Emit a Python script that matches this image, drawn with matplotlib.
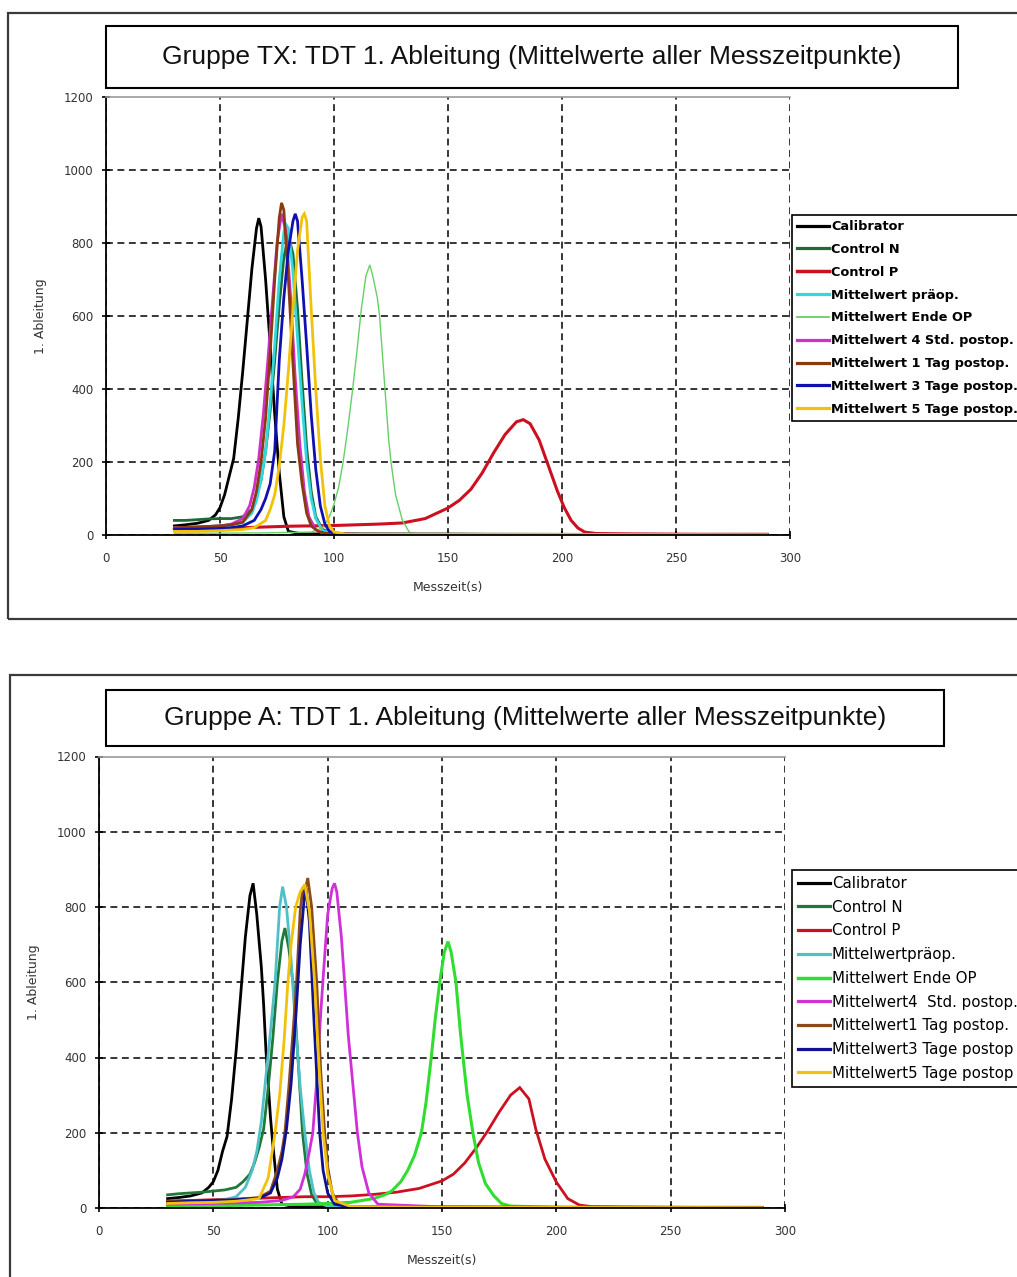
import matplotlib
matplotlib.use("Agg")
import matplotlib.pyplot as plt
from matplotlib.patches import Rectangle

plt.rcParams['font.family'] = ['Liberation Sans', 'DejaVu Sans']

# ---------------------------------------------------------------- data
SERIES = ["Calibrator", "Control N", "Control P", "Mittelwert präop.",
          "Mittelwert Ende OP", "Mittelwert 4 Std. postop.",
          "Mittelwert 1 Tag postop.", "Mittelwert 3 Tage postop.",
          "Mittelwert 5 Tage postop."]
SERIES_A = ["Calibrator", "Control N", "Control P", "Mittelwertpräop.",
            "Mittelwert Ende OP", "Mittelwert4  Std. postop.",
            "Mittelwert1 Tag postop.", "Mittelwert3 Tage postop",
            "Mittelwert5 Tage postop"]

X_TICKS = [0, 50, 100, 150, 200, 250, 300]
Y_TICKS = [0, 200, 400, 600, 800, 1000, 1200]

# Gruppe TX
tx_cal_x = [30, 35, 40, 45, 48, 50, 52, 54, 56, 58, 60, 62, 64, 66, 67, 68, 70, 72, 74, 76, 78, 80, 85, 90, 100, 150, 200, 250, 290]
tx_cal_y = [25, 28, 32, 40, 55, 75, 110, 160, 210, 320, 450, 590, 730, 840, 868, 845, 700, 520, 330, 170, 50, 10, 4, 3, 2, 2, 1, 1, 1]
tx_cn_x = [30, 35, 40, 45, 50, 55, 60, 64, 68, 70, 72, 74, 76, 78, 80, 82, 84, 86, 88, 90, 92, 95, 100, 110, 150, 200, 250, 290]
tx_cn_y = [40, 40, 42, 44, 45, 45, 50, 70, 150, 230, 340, 480, 630, 760, 820, 770, 620, 420, 240, 120, 50, 15, 5, 3, 2, 2, 1, 1]
tx_cp_x = [30, 40, 50, 60, 70, 80, 90, 100, 110, 120, 130, 140, 150, 155, 160, 165, 170, 175, 180, 183, 186, 190, 194, 198, 201, 204, 207, 210, 215, 230, 260, 290]
tx_cp_y = [15, 16, 18, 20, 22, 24, 25, 26, 28, 30, 33, 45, 74, 95, 125, 170, 225, 275, 310, 316, 305, 260, 190, 120, 75, 40, 19, 8, 4, 3, 2, 2]
tx_pre_x = [30, 40, 50, 55, 60, 64, 66, 68, 70, 72, 74, 76, 78, 79, 80, 82, 84, 86, 88, 90, 92, 95, 100, 110, 150, 200, 290]
tx_pre_y = [20, 22, 25, 28, 35, 60, 95, 150, 230, 360, 520, 700, 830, 850, 840, 720, 540, 360, 200, 100, 45, 12, 4, 2, 2, 1, 1]
tx_end_x = [30, 50, 70, 90, 95, 98, 100, 102, 104, 106, 108, 110, 112, 114, 115.7, 117, 119, 120, 122, 124, 125, 127, 130, 133, 136, 140, 150, 200, 290]
tx_end_y = [5, 5, 6, 8, 20, 50, 85, 130, 200, 290, 390, 500, 620, 710, 740, 710, 650, 600, 430, 260, 200, 110, 40, 8, 3, 2, 2, 1, 1]
tx_4h_x = [30, 40, 50, 55, 60, 63, 65, 67, 69, 71, 73, 75, 77, 79, 81, 83, 85, 87, 89, 92, 95, 100, 110, 150, 290]
tx_4h_y = [20, 22, 25, 30, 45, 80, 130, 210, 330, 480, 640, 800, 880, 830, 650, 430, 250, 120, 50, 15, 5, 3, 2, 2, 1]
tx_1d_x = [30, 40, 50, 55, 60, 64, 66, 68, 70, 72, 74, 76, 77, 78, 80, 82, 84, 86, 88, 90, 93, 96, 100, 110, 150, 200, 290]
tx_1d_y = [20, 22, 25, 28, 35, 70, 120, 200, 320, 500, 700, 870, 910, 890, 700, 470, 250, 140, 60, 25, 10, 5, 3, 2, 2, 1, 1]
tx_3d_x = [30, 40, 50, 55, 60, 65, 68, 70, 72, 74, 76, 78, 80, 82, 83, 84, 86, 88, 90, 92, 94, 96, 98, 100, 105, 110, 150, 290]
tx_3d_y = [15, 16, 18, 20, 25, 40, 70, 100, 140, 230, 480, 650, 780, 860, 880, 860, 700, 520, 330, 180, 80, 30, 10, 5, 3, 2, 2, 1]
tx_5d_x = [30, 40, 50, 60, 65, 70, 72, 74, 76, 78, 80, 82, 84, 86, 87, 88, 90, 92, 94, 96, 98, 100, 105, 110, 150, 290]
tx_5d_y = [10, 10, 12, 15, 20, 40, 70, 110, 190, 300, 450, 620, 780, 870, 880, 860, 620, 400, 210, 80, 25, 8, 3, 2, 2, 1]

# Gruppe A
a_cal_x = [30, 35, 40, 45, 48, 50, 52, 54, 56, 58, 60, 62, 64, 66, 67.4, 69, 71, 72, 73, 74, 75, 76, 78, 80, 85, 90, 150, 290]
a_cal_y = [25, 28, 32, 40, 55, 70, 100, 150, 190, 290, 420, 570, 720, 830, 863, 780, 640, 540, 420, 330, 240, 170, 50, 10, 4, 3, 2, 1]
a_cn_x = [30, 35, 40, 45, 50, 55, 60, 63, 66, 68, 70, 72, 74, 76, 78, 80, 81.3, 83, 85, 87, 89, 91, 93, 95, 100, 110, 150, 290]
a_cn_y = [35, 38, 40, 42, 45, 48, 55, 70, 90, 120, 160, 210, 320, 450, 600, 710, 744, 690, 590, 400, 200, 90, 35, 15, 5, 3, 2, 1]
a_cp_x = [30, 40, 50, 60, 70, 80, 90, 100, 110, 120, 130, 140, 150, 155, 160, 165, 170, 175, 180, 184, 188, 191, 195, 200, 205, 210, 215, 230, 260, 290]
a_cp_y = [18, 20, 22, 24, 26, 28, 30, 30, 32, 36, 42, 52, 72, 90, 120, 160, 205, 255, 300, 320, 290, 210, 130, 69, 25, 8, 4, 3, 2, 2]
a_pre_x = [30, 40, 50, 55, 60, 64, 67, 69, 71, 73, 75, 77, 79, 80.3, 82, 84, 86, 88, 90, 92, 94, 96, 100, 110, 150, 290]
a_pre_y = [15, 18, 20, 22, 30, 55, 100, 150, 230, 350, 470, 600, 800, 854, 800, 660, 480, 320, 200, 100, 40, 15, 5, 3, 2, 1]
a_end_x = [30, 50, 70, 90, 100, 110, 120, 125, 128, 132, 135, 138, 141, 143, 145.3, 147, 149, 151, 152.6, 154, 156.1, 158, 159.2, 161, 163.5, 166, 169, 172.6, 176, 180, 200, 290]
a_end_y = [5, 6, 8, 10, 12, 15, 25, 35, 45, 70, 100, 140, 200, 280, 400, 500, 600, 680, 708, 680, 600, 470, 400, 300, 200, 120, 65, 33, 12, 5, 2, 1]
a_4h_x = [30, 50, 70, 80, 85, 88, 90, 92, 93.5, 95, 97, 98, 100, 102, 103, 104, 106, 107.4, 109, 111, 113, 115, 118, 122, 150, 290]
a_4h_y = [10, 12, 15, 20, 30, 50, 90, 150, 200, 320, 520, 610, 780, 850, 863, 840, 720, 600, 460, 330, 200, 110, 40, 10, 3, 1]
a_1d_x = [30, 40, 50, 60, 70, 75, 78, 80, 81.3, 83, 85, 86.4, 88, 89, 90, 91.3, 93, 95.2, 97, 98.7, 100, 102, 105, 110, 150, 290]
a_1d_y = [18, 20, 20, 22, 28, 45, 100, 150, 200, 320, 480, 600, 790, 845, 840, 877, 800, 600, 360, 200, 110, 40, 10, 3, 2, 1]
a_3d_x = [30, 40, 50, 60, 70, 75, 78, 80, 82, 84, 86, 88, 90, 90.5, 92, 94, 96.5, 98, 100, 103, 110, 150, 290]
a_3d_y = [15, 18, 20, 22, 26, 40, 80, 130, 210, 330, 500, 700, 840, 850, 760, 500, 200, 100, 40, 10, 3, 2, 1]
a_5d_x = [30, 40, 50, 60, 70, 74, 77, 79, 81, 82.6, 84, 86, 88, 90, 92, 94.3, 96, 98, 100, 103, 110, 150, 290]
a_5d_y = [12, 14, 15, 18, 25, 80, 200, 300, 450, 600, 700, 800, 840, 860, 790, 600, 400, 200, 90, 20, 4, 2, 1]

TX_DATA = [(tx_cal_x, tx_cal_y), (tx_cn_x, tx_cn_y), (tx_cp_x, tx_cp_y),
           (tx_pre_x, tx_pre_y), (tx_end_x, tx_end_y), (tx_4h_x, tx_4h_y),
           (tx_1d_x, tx_1d_y), (tx_3d_x, tx_3d_y), (tx_5d_x, tx_5d_y)]
A_DATA = [(a_cal_x, a_cal_y), (a_cn_x, a_cn_y), (a_cp_x, a_cp_y),
          (a_pre_x, a_pre_y), (a_end_x, a_end_y), (a_4h_x, a_4h_y),
          (a_1d_x, a_1d_y), (a_3d_x, a_3d_y), (a_5d_x, a_5d_y)]

# ---------------------------------------------------------------- styles
TX_COLORS = ["#000000", "#1f6b38", "#cc1020", "#30d8e0", "#66d066",
             "#d030c8", "#8b3a10", "#1010b0", "#f2c20a"]
A_COLORS = ["#000000", "#1f7a3a", "#cc1020", "#50c0c8", "#30dd30",
            "#d030d8", "#8b4a1a", "#101090", "#f2c20a"]
TX_WIDTHS = [2.0, 2.0, 2.2, 2.0, 1.0, 2.0, 2.0, 2.0, 2.0]
A_WIDTHS = [2.0, 2.0, 2.0, 2.0, 2.2, 2.0, 2.0, 2.0, 2.0]

SMALL_FONT = "DejaVu Sans"

W, H = 1017, 1277
fig = plt.figure(figsize=(W / 100, H / 100), dpi=100)


def fx(px):
    return px / W


def fy(py):
    return 1 - py / H


def frame(x0, y0, x1, y1, lw, color):
    fig.add_artist(Rectangle((fx(x0), fy(y1)), fx(x1) - fx(x0), fy(y0) - fy(y1),
                             transform=fig.transFigure, fill=False,
                             edgecolor=color, linewidth=lw))


def panel(box, title_box, axes_px, title, labels, data, colors, widths,
          leg_xy, leg_font, leg_weight, leg_spacing, handle_len):
    frame(*box, lw=1.6, color="#3a3a3a")
    frame(*title_box, lw=1.5, color="#000000")
    tx0, ty0, tx1, ty1 = title_box
    fig.text(fx((tx0 + tx1) / 2), fy((ty0 + ty1) / 2), title,
             ha="center", va="center", fontsize=19, color="#111111")

    l, t, r, b = axes_px
    ax = fig.add_axes([fx(l), fy(b), fx(r) - fx(l), fy(t) - fy(b)])
    handles = []
    for (xs, ys), c, lw, lab in zip(data, colors, widths, labels):
        h, = ax.plot(xs, ys, color=c, linewidth=lw, label=lab,
                     solid_joinstyle="miter", clip_on=True)
        handles.append(h)

    ax.set_xlim(0, 300)
    ax.set_ylim(0, 1200)
    ax.set_xticks(X_TICKS)
    ax.set_yticks(Y_TICKS)
    ax.grid(True, color="black", linestyle=(0, (4.5, 3)), linewidth=1.1)
    ax.get_ygridlines()[-1].set_visible(False)
    ax.tick_params(direction="inout", length=6, width=1.2, labelsize=8.5,
                   labelcolor="#333333")
    ax.tick_params(axis="x", pad=9)
    ax.tick_params(axis="y", pad=6)
    for lab in ax.get_xticklabels() + ax.get_yticklabels():
        lab.set_family(SMALL_FONT)
    for side in ("left", "bottom"):
        ax.spines[side].set_color("black")
        ax.spines[side].set_linewidth(1.3)
    ax.spines["top"].set_color("#9a9a9a")
    ax.spines["top"].set_linewidth(1.2)
    ax.spines["right"].set_visible(False)
    ax.set_ylabel("1. Ableitung", fontsize=9, color="#333333", labelpad=12,
                  family=SMALL_FONT)
    ax.set_xlabel("Messzeit(s)", fontsize=9, color="#333333", labelpad=12,
                  family=SMALL_FONT)

    leg = fig.legend(handles=handles, loc="upper left",
                     bbox_to_anchor=(fx(leg_xy[0]), fy(leg_xy[1])),
                     bbox_transform=fig.transFigure, borderaxespad=0,
                     fancybox=False, framealpha=1, edgecolor="black",
                     prop={"size": leg_font, "weight": leg_weight,
                           "family": SMALL_FONT},
                     labelspacing=leg_spacing, handlelength=handle_len,
                     handletextpad=0.15, borderpad=0.4)
    leg.get_frame().set_linewidth(1.2)
    for line, lw in zip(leg.get_lines(), widths):
        line.set_linewidth(lw + 0.3)
    return ax


panel(box=(7.5, 13, 1030, 619), title_box=(105.7, 25.7, 958, 87.7),
      axes_px=(106, 97, 790, 535),
      title="Gruppe TX: TDT 1. Ableitung (Mittelwerte aller Messzeitpunkte)",
      labels=SERIES, data=TX_DATA, colors=TX_COLORS, widths=TX_WIDTHS,
      leg_xy=(792, 215), leg_font=9.3, leg_weight="bold", leg_spacing=0.76,
      handle_len=2.5)

panel(box=(10, 675, 1030, 1290), title_box=(106, 690, 944, 746),
      axes_px=(99, 756.5, 785, 1208),
      title="Gruppe A: TDT 1. Ableitung (Mittelwerte aller Messzeitpunkte)",
      labels=SERIES_A, data=A_DATA, colors=A_COLORS, widths=A_WIDTHS,
      leg_xy=(792, 870), leg_font=10.8, leg_weight="normal", leg_spacing=0.58,
      handle_len=2.1)

fig.savefig("out.png", dpi=100)
